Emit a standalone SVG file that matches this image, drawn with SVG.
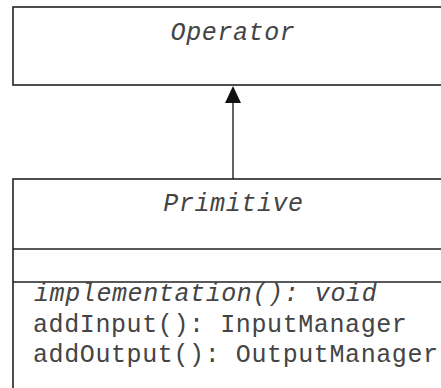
<svg xmlns="http://www.w3.org/2000/svg" width="441" height="388" viewBox="0 0 441 388">
<style>
.box{fill:#fff;stroke:#222;stroke-width:1.6}
.sep{stroke:#222;stroke-width:1.6}
.t{font-family:"Liberation Mono","Courier New",monospace;font-size:25px;letter-spacing:0.6px;fill:#444}
.i{font-style:italic}
.c{stroke:#222;stroke-width:1.4;fill:none}
</style>
<rect width="441" height="388" fill="#fff"/>
<g id="operator">
<rect class="box" x="13" y="7" width="450" height="78"/>
<text class="t i" x="233" y="40" text-anchor="middle">Operator</text>
</g>
<g id="primitive">
<rect class="box" x="13" y="179" width="450" height="230"/>
<line class="sep" x1="13" y1="249" x2="463" y2="249"/>
<line class="sep" x1="13" y1="282" x2="463" y2="282"/>
<text class="t i" x="233.5" y="211" text-anchor="middle">Primitive</text>
<text class="t i" x="34" y="301">implementation(): void</text>
<text class="t" x="33" y="332">addInput(): InputManager</text>
<text class="t" x="33" y="362">addOutput(): OutputManager</text>
</g>
<g id="connectors">
<line class="c" x1="233" y1="179" x2="233" y2="102"/>
<path d="M233,86 L225,103 L241,103 Z" fill="#111"/>
</g>
</svg>
